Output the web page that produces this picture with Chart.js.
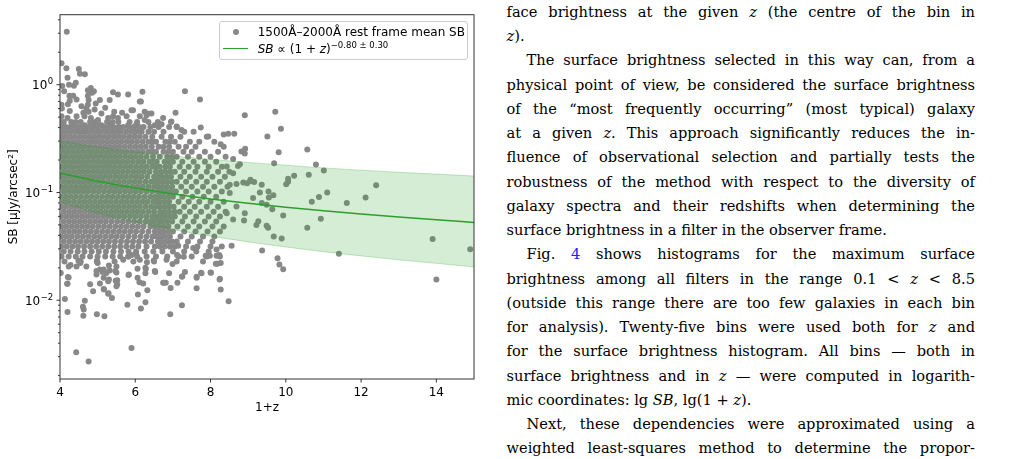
<!DOCTYPE html>
<html>
<head>
<meta charset="utf-8">
<script src="https://cdn.jsdelivr.net/npm/chart.js@4"></script>
<style>
  body { margin: 0; width: 1016px; height: 459px; overflow: hidden; background: #fff; position: relative; }
  #chartBox { position: absolute; left: 0; top: 0; width: 480px; height: 459px; }
  #legend { position: absolute; left: 219px; top: 20.7px; width: 248.7px; height: 39.6px; box-sizing: border-box;
            border: 1px solid #cccccc; border-radius: 3px; background: rgba(255,255,255,0.8);
            font: 12px "DejaVu Sans"; color: #000; }
  #legend span { position: absolute; white-space: nowrap; line-height: 14px; }
  #legend .dot { width: 6px; height: 6px; border-radius: 50%; background: #888; left: 13px; top: 7px; }
  #legend .line { width: 25px; height: 1.5px; background: #2ca02c; left: 3.3px; top: 26.2px; }
  #legend sup { font-size: 8.5px; vertical-align: 5px; line-height: 0; }
  .col { position: absolute; left: 506.5px; top: -0.1px; width: 468.5px; font-family: "DejaVu Serif"; font-size: 14.6px;
         line-height: 24.25px; color: #000; }
  .col div { text-align: justify; text-align-last: justify; }
  .col div.l { text-align-last: left; }
  .col div.i { text-indent: 20px; }
  .col i { font-style: italic; }
  .ref { color: #2020ff; }
</style>
</head>
<body>
<div id="chartBox">
  <canvas id="sbChart" width="480" height="459"></canvas>
  <div id="legend">
    <span class="dot"></span>
    <span style="left:37.7px; top:3px;">1500Å–2000Å rest frame mean SB</span>
    <span class="line"></span>
    <span style="left:37.7px; top:20px;"><i>SB</i> ∝ (1 + <i>z</i>)<sup>−0.80 ± 0.30</sup></span>
  </div>
</div>
<div class="col">
  <div>face brightness at the given <i>z</i> (the centre of the bin in</div>
  <div class="l"><i>z</i>).</div>
  <div class="i">The surface brightness selected in this way can, from a</div>
  <div>physical point of view, be considered the surface brightness</div>
  <div>of the “most frequently occurring” (most typical) galaxy</div>
  <div>at a given <i>z</i>. This approach significantly reduces the in-</div>
  <div>fluence of observational selection and partially tests the</div>
  <div>robustness of the method with respect to the diversity of</div>
  <div>galaxy spectra and their redshifts when determining the</div>
  <div class="l">surface brightness in a filter in the observer frame.</div>
  <div class="i">Fig. <span class="ref">4</span> shows histograms for the maximum surface</div>
  <div>brightness among all filters in the range 0.1 &lt; <i>z</i> &lt; 8.5</div>
  <div>(outside this range there are too few galaxies in each bin</div>
  <div>for analysis). Twenty-five bins were used both for <i>z</i> and</div>
  <div>for the surface brightness histogram. All bins — both in</div>
  <div>surface brightness and in <i>z</i> — were computed in logarith-</div>
  <div class="l">mic coordinates: lg <i>SB</i>, lg(1 + <i>z</i>).</div>
  <div class="i">Next, these dependencies were approximated using a</div>
  <div>weighted least-squares method to determine the propor-</div>
</div>

<script>
// axis ticks
const xTicks = [4, 6, 8, 10, 12, 14];
const yMajorTicks = [0.01, 0.1, 1];
const yExpLabels = ["−2", "−1", "0"];
const yMinorTicks = [0.002, 0.003, 0.004, 0.005, 0.006, 0.007, 0.008, 0.009,
    0.02, 0.03, 0.04, 0.05, 0.06, 0.07, 0.08, 0.09,
    0.2, 0.3, 0.4, 0.5, 0.6, 0.7, 0.8, 0.9, 2, 3, 4];

// fit SB ~ (1+z)^-0.80 and its +-0.30 band, read at integer 1+z
const fitX = [4, 5, 6, 7, 8, 9, 10, 11, 12, 13, 14, 15];
const fitSB = [0.152, 0.127, 0.110, 0.097, 0.0872, 0.0793, 0.0729, 0.0676, 0.0630, 0.0591, 0.0557, 0.0527];
const bandUpper = [0.299, 0.264, 0.238, 0.218, 0.203, 0.190, 0.179, 0.169, 0.161, 0.154, 0.148, 0.142];
const bandLower = [0.081, 0.064, 0.053, 0.0452, 0.0393, 0.0348, 0.0312, 0.0282, 0.0258, 0.0237, 0.0220, 0.0204];

// galaxies above the main cloud [1+z, SB]
const galaxiesHigh = [
    [4.18,3.1],[4.04,1.58],[4.17,1.42],[4.50,1.40],[4.53,1.26],[4.66,1.25],[4.20,1.16],[4.06,0.97],[4.24,1.0],
    [4.42,1.04],[4.37,0.98],[4.11,0.87],[4.74,0.89],[4.82,0.93],[4.90,0.87],[4.85,0.84],[4.25,0.79],[4.35,0.79],
    [4.74,0.79],[5.41,0.85],[5.54,0.81],[5.81,0.81],[6.19,0.86],[4.44,0.73],[4.26,0.71],[4.76,0.72],[5.06,0.72],
    [5.32,0.72],[6.15,0.70],[4.04,0.65],[4.21,0.66],[4.74,0.65],[4.57,0.63],[4.05,0.60],[4.26,0.57],[4.70,0.60],
    [4.92,0.59],[4.76,0.56],[5.94,0.58],[5.44,0.56],[5.10,0.54],[4.04,0.51],[4.20,0.49],[4.44,0.51],[4.65,0.51],
    [4.82,0.49],[5.01,0.47],[5.28,0.49],[5.41,0.51],[5.54,0.49],[5.77,0.51],[6.25,0.56],[6.34,0.54],[6.12,0.51],
    [6.25,0.47],[6.74,0.49],[4.09,0.42],[4.39,0.43],[4.66,0.42],[4.88,0.43],[5.10,0.42],[5.37,0.43],[5.81,0.42],
    [6.03,0.43],[6.52,0.42],[6.70,0.43],[7.32,0.87],[7.72,0.73],[7.74,0.40],[7.07,0.55],[6.96,0.455],[5.90,0.58],
    [6.12,0.70],[6.30,0.52],[6.43,0.54],[7.23,0.38],[7.10,0.41],[4.62,0.55],[5.2,0.61],[5.65,0.55],[4.95,0.67]
];

// main cloud, one row per SB level: [SB, [1+z values]]
const galaxyRows = [
    [0.45, [4.02, 4.1, 4.3, 4.42, 4.55, 4.8, 4.93, 5.0, 5.25, 5.4, 5.55, 5.85, 6.05, 6.35, 6.6, 6.95]],
    [0.405, [4.03, 4.15, 4.27, 4.4, 4.52, 4.65, 4.78, 4.9, 5.03, 5.17, 5.3, 5.42, 5.56, 5.68, 5.83, 5.96, 6.1, 6.22, 6.4, 6.62, 6.9, 7.1]],
    [0.365, [4.08, 4.2, 4.33, 4.47, 4.6, 4.72, 4.85, 4.98, 5.1, 5.24, 5.37, 5.5, 5.62, 5.76, 5.9, 6.03, 6.17, 6.35, 6.5, 6.75, 7.3, 7.55]],
    [0.328, [4.02, 4.14, 4.27, 4.4, 4.53, 4.66, 4.79, 4.92, 5.05, 5.18, 5.31, 5.44, 5.57, 5.7, 5.84, 5.98, 6.12, 6.27, 6.45, 6.7, 6.95, 7.2, 7.9]],
    [0.295, [4.08, 4.21, 4.34, 4.47, 4.6, 4.73, 4.86, 4.99, 5.12, 5.25, 5.38, 5.51, 5.64, 5.78, 5.91, 6.05, 6.2, 6.35, 6.45, 6.55, 6.8, 6.92, 7.05, 7.45, 7.7, 8.1]],
    [0.265, [4.03, 4.15, 4.28, 4.41, 4.54, 4.67, 4.8, 4.93, 5.06, 5.19, 5.32, 5.45, 5.58, 5.72, 5.86, 6.0, 6.14, 6.28, 6.44, 6.62, 6.75, 6.9, 7.15, 7.35, 7.6, 8.35]],
    [0.239, [4.09, 4.22, 4.35, 4.48, 4.61, 4.74, 4.87, 5.0, 5.13, 5.26, 5.39, 5.52, 5.65, 5.78, 5.92, 6.06, 6.2, 6.35, 6.45, 6.55, 6.75, 6.88, 7.0, 7.28, 7.5, 7.85, 8.2]],
    [0.215, [4.03, 4.16, 4.29, 4.42, 4.55, 4.68, 4.81, 4.94, 5.07, 5.2, 5.33, 5.46, 5.59, 5.73, 5.87, 6.01, 6.15, 6.3, 6.47, 6.65, 6.85, 6.98, 7.1, 7.4, 7.7, 8.0, 8.4]],
    [0.193, [4.1, 4.23, 4.36, 4.49, 4.62, 4.75, 4.88, 5.01, 5.14, 5.27, 5.4, 5.53, 5.66, 5.8, 5.94, 6.08, 6.22, 6.38, 6.48, 6.57, 6.78, 6.9, 7.0, 7.25, 7.55, 7.85, 8.15]],
    [0.173, [4.03, 4.16, 4.29, 4.42, 4.55, 4.68, 4.81, 4.94, 5.07, 5.2, 5.33, 5.46, 5.6, 5.74, 5.88, 6.02, 6.16, 6.3, 6.45, 6.55, 6.65, 6.8, 6.92, 7.18, 7.42, 7.65, 7.95, 8.3]],
    [0.156, [4.1, 4.23, 4.36, 4.49, 4.62, 4.75, 4.88, 5.01, 5.14, 5.27, 5.4, 5.53, 5.67, 5.81, 5.95, 6.09, 6.23, 6.38, 6.55, 6.68, 6.8, 6.93, 7.05, 7.3, 7.6, 7.9, 8.2, 8.5]],
    [0.140, [4.03, 4.16, 4.29, 4.42, 4.55, 4.68, 4.81, 4.94, 5.07, 5.2, 5.33, 5.47, 5.61, 5.75, 5.89, 6.03, 6.17, 6.32, 6.5, 6.6, 6.7, 6.83, 6.95, 7.2, 7.45, 7.75, 8.05, 8.38]],
    [0.126, [4.1, 4.23, 4.36, 4.49, 4.62, 4.75, 4.88, 5.01, 5.14, 5.28, 5.42, 5.56, 5.7, 5.84, 5.98, 6.12, 6.27, 6.42, 6.52, 6.62, 6.74, 6.85, 6.97, 7.1, 7.35, 7.62, 7.9, 8.25]],
    [0.113, [4.03, 4.16, 4.29, 4.42, 4.55, 4.68, 4.81, 4.94, 5.08, 5.22, 5.36, 5.5, 5.64, 5.78, 5.92, 6.06, 6.2, 6.35, 6.5, 6.6, 6.72, 6.85, 6.98, 7.22, 7.5, 7.8, 8.1, 8.45]],
    [0.102, [4.1, 4.23, 4.36, 4.49, 4.62, 4.75, 4.89, 5.03, 5.17, 5.31, 5.45, 5.59, 5.73, 5.87, 6.01, 6.15, 6.3, 6.45, 6.6, 6.7, 6.82, 6.95, 7.08, 7.35, 7.65, 7.95, 8.3]],
    [0.0915, [4.03, 4.16, 4.29, 4.42, 4.56, 4.7, 4.84, 4.98, 5.12, 5.26, 5.4, 5.54, 5.68, 5.82, 5.96, 6.1, 6.25, 6.4, 6.53, 6.64, 6.75, 6.88, 7.0, 7.25, 7.52, 7.82, 8.15]],
    [0.0822, [4.1, 4.23, 4.37, 4.51, 4.65, 4.79, 4.93, 5.07, 5.21, 5.35, 5.49, 5.63, 5.77, 5.91, 6.05, 6.19, 6.33, 6.48, 6.58, 6.65, 6.78, 6.9, 7.15, 7.42, 7.7, 8.0, 8.35]],
    [0.0739, [4.03, 4.16, 4.3, 4.44, 4.58, 4.72, 4.86, 5.0, 5.14, 5.28, 5.42, 5.56, 5.7, 5.84, 5.98, 6.12, 6.27, 6.42, 6.55, 6.66, 6.78, 6.9, 7.02, 7.3, 7.58, 7.9, 8.2]],
    [0.0664, [4.1, 4.24, 4.38, 4.52, 4.66, 4.8, 4.94, 5.08, 5.22, 5.36, 5.5, 5.64, 5.78, 5.92, 6.06, 6.2, 6.35, 6.5, 6.66, 6.78, 6.9, 7.04, 7.18, 7.45, 7.75, 8.08, 8.4]],
    [0.0597, [4.03, 4.17, 4.31, 4.45, 4.59, 4.73, 4.87, 5.01, 5.15, 5.29, 5.43, 5.57, 5.71, 5.86, 6.0, 6.15, 6.3, 6.45, 6.58, 6.7, 6.8, 6.93, 7.05, 7.32, 7.62, 7.95, 8.25]],
    [0.0537, [4.1, 4.24, 4.38, 4.52, 4.66, 4.8, 4.94, 5.08, 5.22, 5.37, 5.52, 5.67, 5.82, 5.97, 6.12, 6.28, 6.4, 6.5, 6.62, 6.72, 6.85, 6.98, 7.25, 7.55, 7.85, 8.15]],
    [0.0483, [4.03, 4.17, 4.31, 4.45, 4.59, 4.73, 4.87, 5.02, 5.17, 5.32, 5.47, 5.62, 5.77, 5.92, 6.07, 6.22, 6.4, 6.52, 6.62, 6.75, 6.88, 7.12, 7.4, 7.7, 8.05, 8.35]],
    [0.0434, [4.1, 4.24, 4.38, 4.52, 4.67, 4.82, 4.97, 5.12, 5.27, 5.42, 5.57, 5.72, 5.87, 6.02, 6.18, 6.35, 6.52, 6.64, 6.75, 6.88, 7.0, 7.3, 7.6, 7.92, 8.25]],
    [0.0390, [4.03, 4.17, 4.31, 4.46, 4.61, 4.76, 4.91, 5.06, 5.21, 5.36, 5.51, 5.66, 5.82, 5.98, 6.14, 6.3, 6.46, 6.57, 6.68, 6.8, 6.92, 7.2, 7.5, 7.8, 8.1]],
    [0.0350, [4.1, 4.25, 4.4, 4.55, 4.7, 4.85, 5.0, 5.15, 5.3, 5.46, 5.62, 5.78, 5.94, 6.1, 6.26, 6.42, 6.6, 6.72, 6.85, 6.97, 7.1, 7.4, 7.72, 8.05]],
    [0.0315, [4.03, 4.18, 4.33, 4.48, 4.64, 4.8, 4.96, 5.12, 5.28, 5.44, 5.6, 5.76, 5.92, 6.08, 6.3, 6.52, 6.65, 6.78, 6.92, 7.05, 7.35, 7.65, 8.0, 8.3]],
    [0.0283, [4.1, 4.28, 4.47, 4.65, 4.84, 5.03, 5.22, 5.42, 5.62, 5.82, 6.02, 6.25, 6.48, 6.72, 7.0, 7.3, 7.62, 7.95]],
    [0.0255, [4.04, 4.23, 4.42, 4.6, 4.8, 5.0, 5.2, 5.4, 5.6, 5.82, 6.05, 6.3, 6.55, 6.85, 7.15, 7.5, 7.9, 8.25]],
    [0.0229, [4.12, 4.55, 4.98, 5.45, 5.95, 6.5, 7.1, 7.8]]
];

// galaxies below the main cloud
const galaxiesLow = [
    [8.48,0.0098],[8.27,0.0126],[8.24,0.0156],[8.18,0.0218],[8.27,0.0222],[7.98,0.0259],[7.87,0.0259],[8.0,0.0181],
    [7.75,0.018],[7.63,0.0165],[7.63,0.0129],[7.24,0.0090],[6.93,0.0074],[6.94,0.013],[6.81,0.0145],[6.74,0.0145],
    [6.90,0.0178],[7.12,0.0145],[7.32,0.0183],[7.24,0.0165],[6.53,0.0183],[6.27,0.0096],[6.15,0.0084],[6.07,0.0113],
    [5.90,0.0036],[5.79,0.0091],[5.82,0.0172],[6.06,0.0196],[6.06,0.0162],[6.27,0.0178],[6.27,0.020],[6.31,0.0225],
    [5.52,0.0141],[5.52,0.0153],[5.38,0.0105],[5.29,0.0116],[5.16,0.0127],[5.06,0.0143],[4.88,0.0121],[4.80,0.0141],
    [4.66,0.0099],[5.18,0.0071],[4.98,0.0074],[4.63,0.0082],[4.62,0.0072],[4.61,0.0087],[4.20,0.0078],[4.13,0.0103],
    [4.20,0.0142],[4.02,0.0179],[4.43,0.0033],[4.76,0.0027],[4.23,0.0163],[4.23,0.0206],[4.28,0.0212],[4.44,0.0206],
    [4.70,0.0206],[4.54,0.0222],[4.49,0.0232],[5.06,0.0193],[5.0,0.0222],[4.98,0.0233],[5.16,0.0193],[5.23,0.0179],
    [5.30,0.0156],[5.47,0.0187],[5.50,0.0206],[5.68,0.0238],[5.81,0.0255],[5.90,0.0263],[6.02,0.0273],[6.12,0.0238],
    [5.17,0.0126],[5.28,0.0115],[5.16,0.0162],[5.28,0.015],[5.48,0.0152],[5.50,0.0135],[5.50,0.0181],[5.83,0.0173],
    [6.11,0.0147],[6.21,0.0143],[6.32,0.0124],[4.21,0.0164],[4.19,0.0142],[4.97,0.0187],[4.97,0.0173],[5.13,0.0183],
    [5.30,0.021],[5.32,0.0189],[6.52,0.0187],[6.49,0.0234],[6.28,0.0195],[7.14,0.032],[7.54,0.0305],[7.64,0.031],
    [8.16,0.0259],[8.23,0.0263],[8.16,0.0295],[6.83,0.0238],[6.99,0.0217],[7.29,0.0253],[7.11,0.0263],[7.25,0.0167],
    [7.76,0.0178],[8.01,0.018],[8.25,0.0158],[8.14,0.0218],[7.63,0.0162],[6.76,0.0145]
];

// sparse galaxies at high redshift
const galaxiesFar = [
    [8.91,0.52],[9.72,0.56],[9.87,0.39],[9.51,0.33],[9.81,0.236],[10.57,0.25],[9.69,0.187],[10.80,0.182],[11.01,0.160],
    [10.22,0.143],[10.06,0.134],[10.06,0.126],[10.01,0.119],[10.61,0.146],[12.40,0.117],[9.54,0.102],[9.67,0.094],
    [11.10,0.100],[10.88,0.091],[12.12,0.090],[9.55,0.090],[10.69,0.082],[11.62,0.080],[9.64,0.070],[9.93,0.061],
    [10.93,0.057],[9.49,0.049],[10.57,0.047],[9.68,0.039],[9.89,0.0375],[13.90,0.0371],[14.90,0.0297],[11.41,0.0270],
    [9.78,0.0245],[9.83,0.0215],[9.93,0.0194],[14.0,0.0156],[9.37,0.029],[8.92,0.255],[8.91,0.23],[8.35,0.345],
    [8.47,0.35],[8.63,0.35],[7.94,0.33],[8.27,0.28],[8.60,0.204],[8.78,0.183],[9.36,0.118],[9.27,0.054],[8.89,0.055],
    [8.56,0.032],[9.06,0.131],[8.97,0.122],[8.87,0.124],[9.16,0.125],[8.51,0.118],[8.69,0.12],[8.60,0.151],[8.73,0.176],
    [8.43,0.174],[8.51,0.099],[8.69,0.074],[8.91,0.064],[8.60,0.056],[8.43,0.064],[9.36,0.080],[9.13,0.089],
    [8.82,0.24],[9.05,0.127],[9.31,0.10],[9.49,0.077],[9.22,0.050],[9.53,0.047]
];

const scatterPoints = [];
galaxiesHigh.concat(galaxiesLow, galaxiesFar).forEach(p => scatterPoints.push({ x: p[0], y: p[1] }));
galaxyRows.forEach(row => {
    row[1].forEach(z => scatterPoints.push({ x: z, y: row[0] }));
});

const toXY = (xs, ys) => xs.map((x, i) => ({ x: x, y: ys[i] }));
const SCATTER_INDEX = 3;

// translucent band between the upper and lower curves, painted right after the points
const bandFillPlugin = {
    id: "bandFill",
    afterDatasetDraw(chart, args) {
        if (args.index !== SCATTER_INDEX) return;
        const up = chart.getDatasetMeta(1).data;
        const lo = chart.getDatasetMeta(2).data;
        const a = chart.chartArea;
        const ctx = chart.ctx;
        ctx.save();
        ctx.beginPath();
        ctx.rect(a.left, a.top, a.right - a.left, a.bottom - a.top);
        ctx.clip();
        ctx.beginPath();
        up.forEach((p, i) => i ? ctx.lineTo(p.x, p.y) : ctx.moveTo(p.x, p.y));
        for (let i = lo.length - 1; i >= 0; i--) ctx.lineTo(lo[i].x, lo[i].y);
        ctx.closePath();
        ctx.fillStyle = "rgba(44,160,44,0.2)";
        ctx.fill();
        ctx.restore();
    }
};

// frame, tick marks and the 10^n labels, matplotlib style
const axesFramePlugin = {
    id: "axesFrame",
    afterDraw(chart) {
        const ctx = chart.ctx;
        const a = chart.chartArea;
        const xs = chart.scales.x, ys = chart.scales.y;
        ctx.save();
        ctx.strokeStyle = "#333";
        ctx.lineWidth = 1;
        ctx.strokeRect(a.left, a.top, a.right - a.left, a.bottom - a.top);
        ctx.beginPath();
        xTicks.forEach(v => {
            const p = xs.getPixelForValue(v);
            ctx.moveTo(p, a.bottom); ctx.lineTo(p, a.bottom + 3.5);
        });
        yMajorTicks.forEach(v => {
            const p = ys.getPixelForValue(v);
            ctx.moveTo(a.left, p); ctx.lineTo(a.left - 3.5, p);
        });
        yMinorTicks.forEach(v => {
            const p = ys.getPixelForValue(v);
            ctx.moveTo(a.left, p); ctx.lineTo(a.left - 2, p);
        });
        ctx.stroke();

        ctx.fillStyle = "#000";
        ctx.textAlign = "right";
        ctx.textBaseline = "alphabetic";
        const right = a.left - 6.8;
        yMajorTicks.forEach((v, i) => {
            const p = ys.getPixelForValue(v);
            ctx.font = '8.5px "DejaVu Sans"';
            const ew = ctx.measureText(yExpLabels[i]).width;
            ctx.fillText(yExpLabels[i], right, p - 0.5);
            ctx.font = '12px "DejaVu Sans"';
            ctx.fillText("10", right - ew - 0.5, p + 4.8);
        });
        ctx.restore();
    }
};

new Chart(document.getElementById("sbChart"), {
    type: "scatter",
    data: {
        datasets: [
            {
                label: "fit",
                data: toXY(fitX, fitSB),
                showLine: true,
                borderColor: "#2ca02c",
                borderWidth: 1.5,
                pointRadius: 0,
                cubicInterpolationMode: "monotone",
                order: 0
            },
            {
                label: "upper",
                data: toXY(fitX, bandUpper),
                showLine: true,
                borderColor: "rgba(44,160,44,0.25)",
                borderWidth: 1,
                pointRadius: 0,
                order: 1
            },
            {
                label: "lower",
                data: toXY(fitX, bandLower),
                showLine: true,
                borderColor: "rgba(44,160,44,0.25)",
                borderWidth: 1,
                pointRadius: 0,
                order: 2
            },
            {
                label: "1500Å–2000Å rest frame mean SB",
                data: scatterPoints,
                pointRadius: 3,
                pointBackgroundColor: "#888888",
                pointBorderWidth: 0,
                clip: 0,
                order: 3
            }
        ]
    },
    options: {
        responsive: false,
        animation: false,
        layout: { padding: { top: 14.7, right: 6, left: 0, bottom: 0 } },
        plugins: { legend: { display: false }, tooltip: { enabled: false } },
        scales: {
            x: {
                type: "linear",
                min: 4,
                max: 15,
                afterBuildTicks: s => { s.ticks = xTicks.map(v => ({ value: v })); },
                afterFit: s => { s.height = 80; },
                grid: { display: false, drawTicks: true, tickLength: 3.5 },
                border: { display: false },
                ticks: { font: { family: "DejaVu Sans", size: 12 }, color: "#000", padding: 3.5, maxRotation: 0 },
                title: { display: true, text: "1+z", color: "#000", font: { family: "DejaVu Sans", size: 12 }, padding: { top: 0, bottom: 44 } }
            },
            y: {
                type: "logarithmic",
                min: 0.00186,
                max: 4.46,
                afterBuildTicks: s => { s.ticks = yMajorTicks.map(v => ({ value: v })); },
                afterFit: s => { s.width = 60; },
                grid: { display: false },
                border: { display: false },
                ticks: { display: false },
                title: { display: true, text: "SB [μJy/arcsec²]", color: "#000", font: { family: "DejaVu Sans", size: 12 }, padding: { top: 7, bottom: 0 } }
            }
        }
    },
    plugins: [bandFillPlugin, axesFramePlugin]
});
</script>
</body>
</html>
